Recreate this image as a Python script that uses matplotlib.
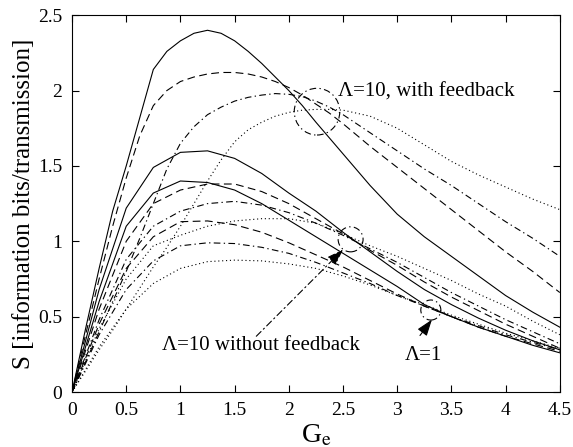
import numpy as np
import matplotlib
matplotlib.use("Agg")
import matplotlib.pyplot as plt
from matplotlib.patches import Ellipse
from matplotlib.ticker import FuncFormatter

plt.rcParams["font.family"] = ["Liberation Serif", "DejaVu Serif"]
plt.rcParams["mathtext.fontset"] = "stix"

# G_e sample points (finer grid for the feedback curves)
ge_fb = [0, 0.125, 0.25, 0.375, 0.5, 0.625, 0.75, 0.875, 1.0, 1.125, 1.25, 1.375, 1.5, 1.625, 1.75,
         1.875, 2.0, 2.125, 2.25, 2.375, 2.5, 2.75, 3.0, 3.25, 3.5, 3.75, 4.0, 4.25, 4.5]
ge = [0, 0.25, 0.5, 0.75, 1.0, 1.25, 1.5, 1.75, 2.0, 2.25, 2.5, 2.75, 3.0, 3.25, 3.5, 3.75, 4.0, 4.25, 4.5]

# Lambda=10, with feedback
fb_solid   = [0, 0.42, 0.82, 1.2, 1.5, 1.82, 2.14, 2.26, 2.33, 2.38, 2.40, 2.38, 2.33, 2.26, 2.18,
              2.09, 2.0, 1.9, 1.79, 1.685, 1.58, 1.37, 1.18, 1.03, 0.90, 0.77, 0.64, 0.53, 0.43]
fb_dashed  = [0, 0.38, 0.75, 1.1, 1.42, 1.7, 1.9, 2.0, 2.06, 2.09, 2.11, 2.12, 2.12, 2.11, 2.09,
              2.06, 2.02, 1.97, 1.91, 1.85, 1.78, 1.63, 1.49, 1.35, 1.21, 1.07, 0.93, 0.80, 0.66]
fb_dashdot = [0, 0.2, 0.4, 0.6, 0.8, 1.02, 1.25, 1.48, 1.65, 1.76, 1.84, 1.89, 1.93, 1.955, 1.97,
              1.98, 1.975, 1.96, 1.93, 1.89, 1.84, 1.72, 1.60, 1.48, 1.37, 1.25, 1.13, 1.02, 0.90]
fb_dotted  = [0, 0.14, 0.28, 0.41, 0.55, 0.69, 0.83, 0.96, 1.1, 1.25, 1.4, 1.54, 1.66, 1.74, 1.79,
              1.83, 1.855, 1.87, 1.875, 1.875, 1.87, 1.83, 1.75, 1.64, 1.53, 1.44, 1.36, 1.28, 1.21]

# Lambda=10, without feedback
nf_solid   = [0, 0.68, 1.22, 1.49, 1.59, 1.60, 1.55, 1.45, 1.32, 1.20, 1.06, 0.93, 0.80, 0.68, 0.58, 0.49, 0.41, 0.34, 0.28]
nf_dashed  = [0, 0.55, 1.00, 1.25, 1.34, 1.38, 1.38, 1.33, 1.25, 1.15, 1.05, 0.94, 0.84, 0.73, 0.63, 0.54, 0.45, 0.37, 0.29]
nf_dashdot = [0, 0.48, 0.88, 1.10, 1.20, 1.25, 1.265, 1.24, 1.19, 1.12, 1.04, 0.95, 0.86, 0.76, 0.66, 0.57, 0.48, 0.40, 0.32]
nf_dotted  = [0, 0.42, 0.75, 0.97, 1.04, 1.10, 1.135, 1.15, 1.15, 1.12, 1.05, 0.97, 0.90, 0.82, 0.74, 0.65, 0.57, 0.47, 0.38]

# Lambda=1
l1_solid   = [0, 0.60, 1.10, 1.32, 1.40, 1.39, 1.34, 1.25, 1.14, 1.03, 0.92, 0.81, 0.70, 0.58, 0.50, 0.43, 0.37, 0.31, 0.26]
l1_dashed  = [0, 0.45, 0.82, 1.03, 1.13, 1.135, 1.11, 1.06, 0.99, 0.91, 0.83, 0.74, 0.65, 0.57, 0.50, 0.43, 0.37, 0.32, 0.27]
l1_dashdot = [0, 0.38, 0.68, 0.87, 0.97, 0.99, 0.985, 0.96, 0.92, 0.86, 0.79, 0.72, 0.64, 0.57, 0.50, 0.44, 0.38, 0.33, 0.28]
l1_dotted  = [0, 0.30, 0.55, 0.72, 0.82, 0.865, 0.875, 0.87, 0.85, 0.82, 0.77, 0.71, 0.64, 0.58, 0.51, 0.45, 0.39, 0.34, 0.29]

styles = ["-", (0, (7, 4)), (0, (6, 3, 1.2, 3)), (0, (1, 2.5))]
dashdot = (0, (6, 3, 1.2, 3))

fig = plt.figure(figsize=(5.73, 4.47), dpi=100)
ax = fig.add_axes([0.1257, 0.123, 0.8513, 0.843])

for x, group in [(ge_fb, (fb_solid, fb_dashed, fb_dashdot, fb_dotted)),
                 (ge, (nf_solid, nf_dashed, nf_dashdot, nf_dotted)),
                 (ge, (l1_solid, l1_dashed, l1_dashdot, l1_dotted))]:
    for s, ls in zip(group, styles):
        ax.plot(x, s, color="black", linestyle=ls, linewidth=0.8)

circ = dict(fill=False, edgecolor="black", linewidth=0.8, linestyle=dashdot)
ax.add_patch(Ellipse((2.26, 1.86), 0.42, 0.31, **circ))
ax.add_patch(Ellipse((2.57, 1.013), 0.23, 0.166, **circ))
ax.add_patch(Ellipse((3.31, 0.544), 0.185, 0.133, **circ))

ax.text(2.45, 1.99, "Λ=10, with feedback", fontsize=15, va="center", ha="left")
ax.text(0.83, 0.31, "Λ=10 without feedback", fontsize=15, va="center", ha="left")
ax.text(3.07, 0.245, "Λ=1", fontsize=15, va="center", ha="left")

head = "-|>,head_length=1.0,head_width=0.35"
ax.annotate("", xy=(2.50, 0.945), xytext=(1.70, 0.37),
            arrowprops=dict(arrowstyle=head, color="black", linewidth=0.8,
                            linestyle=dashdot, shrinkA=0, shrinkB=0))
ax.annotate("", xy=(3.32, 0.48), xytext=(3.21, 0.375),
            arrowprops=dict(arrowstyle=head, color="black", linewidth=0.8, shrinkA=0, shrinkB=0))

ax.set_xlim(0, 4.5)
ax.set_ylim(0, 2.5)
ax.set_xticks(np.arange(0, 4.51, 0.5))
ax.set_yticks(np.arange(0, 2.51, 0.5))
fmt = FuncFormatter(lambda v, p: "%g" % v)
ax.xaxis.set_major_formatter(fmt)
ax.yaxis.set_major_formatter(fmt)
ax.tick_params(direction="in", top=True, right=True, labelsize=14, length=5, width=0.8, pad=7)
for sp in ax.spines.values():
    sp.set_linewidth(0.8)

ax.set_xlabel(r"G$_\mathrm{e}$", fontsize=20, labelpad=3)
ax.set_ylabel("S [information bits/transmission]", fontsize=18, labelpad=2)

fig.savefig("out.png", dpi=100)
